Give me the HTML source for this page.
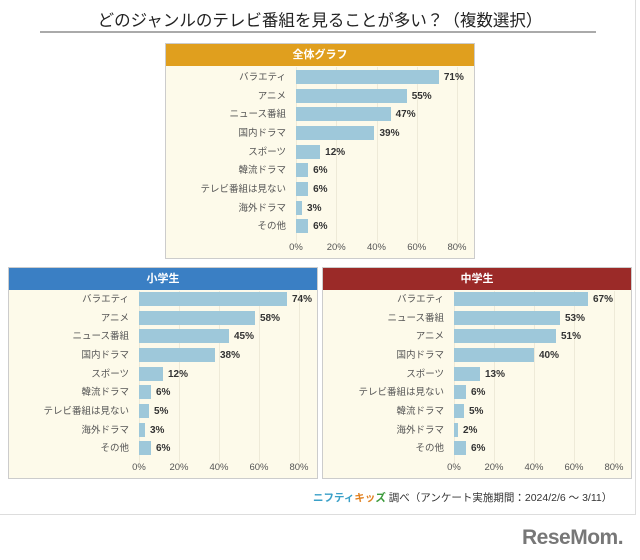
<!DOCTYPE html>
<html><head><meta charset="utf-8"><style>
*{margin:0;padding:0;box-sizing:border-box}
body{width:640px;height:560px;background:#fff;position:relative;font-family:"Liberation Sans","Noto Sans CJK JP",sans-serif;overflow:hidden}
.frame{position:absolute;left:0;top:0;width:636px;height:515px;border:1px solid #ddd;border-top:none;border-left:none}
.title{position:absolute;left:0;width:640px;top:7px;text-align:center;font-size:16.5px;color:#222}
.rule{position:absolute;left:40px;top:31px;width:556px;height:2px;background:#aaa}
.panel{position:absolute;background:#fdfaea;border:1px solid #ccc}
.hd{height:22px;color:#fff;font-weight:bold;font-size:11px;text-align:center;line-height:22px}
.a{position:absolute;font-size:9.5px;color:#555;white-space:nowrap}
.bar{position:absolute;background:#9ec8da;height:14px}
.v{position:absolute;font-size:10px;font-weight:bold;color:#333}
.g{position:absolute;width:1px;background:#eeead8}
.foot{position:absolute;left:313px;top:490px;font-size:10.5px;color:#333;white-space:nowrap}
.logo{position:absolute;left:522px;top:526px;font-size:21px;font-weight:bold;color:#777;letter-spacing:-0.5px}
</style></head><body>
<div class="frame"></div>
<div class="title">どのジャンルのテレビ番組を見ることが多い？（複数選択）</div>
<div class="rule"></div>
<div id="c"></div>
<div class="foot"><span style="color:#3aa0c8;font-weight:bold">ニフティ</span><span style="color:#e08020;font-weight:bold">キッ</span><span style="color:#3a9a3a;font-weight:bold">ズ</span> 調べ（アンケート実施期間：2024/2/6 ～ 3/11）</div>
<div class="logo">ReseMom.</div>
<script>
function panel(x,y,w,h,col,title,x0,x80,y0,labels,vals){
 let s=`<div class="panel" style="left:${x}px;top:${y}px;width:${w}px;height:${h}px"><div class="hd" style="background:${col}">${title}</div></div>`;
 const sc=(x80-x0)/80;
 for(let i=0;i<5;i++){const gx=x0+i*20*sc;s+=`<div class="g" style="left:${gx}px;top:${y+24}px;height:${h-40}px"></div>`;
  s+=`<div class="a" style="left:${gx-12}px;width:24px;text-align:center;top:${y+h-17}px">${i*20}%</div>`;}
 labels.forEach((l,i)=>{const cy=y0+i*18.65;const bw=vals[i]*sc;
  s+=`<div class="a" style="left:${x0-140}px;width:130px;text-align:right;top:${cy-8}px">${l}</div>`;
  s+=`<div class="bar" style="left:${x0}px;top:${cy-7}px;width:${bw}px"></div>`;
  s+=`<div class="v" style="left:${x0+bw+5}px;top:${cy-5}px">${vals[i]}%</div>`;});
 return s;}
const L1=["バラエティ","アニメ","ニュース番組","国内ドラマ","スポーツ","韓流ドラマ","テレビ番組は見ない","海外ドラマ","その他"];
const L3=["バラエティ","ニュース番組","アニメ","国内ドラマ","スポーツ","テレビ番組は見ない","韓流ドラマ","海外ドラマ","その他"];
let h=panel(165,43,310,216,"#e09f1e","全体グラフ",296,457,77,L1,[71,55,47,39,12,6,6,3,6]);
h+=panel(8,267,310,212,"#3a7fc4","小学生",139,299,299,L1,[74,58,45,38,12,6,5,3,6]);
h+=panel(322,267,310,212,"#9b2a28","中学生",454,614,299,L3,[67,53,51,40,13,6,5,2,6]);
document.getElementById('c').innerHTML=h;
</script>
</body></html>
